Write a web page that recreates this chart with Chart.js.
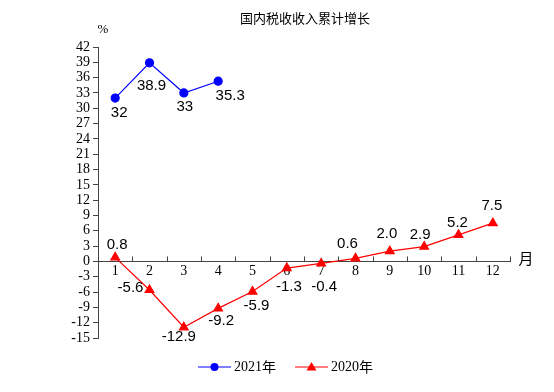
<!DOCTYPE html>
<html>
<head>
<meta charset="utf-8">
<script src="https://cdn.jsdelivr.net/npm/chart.js@4/dist/chart.umd.min.js"></script>
<style>
  html, body { margin: 0; padding: 0; background: #fff; }
  #wrap { width: 554px; height: 392px; }
</style>
</head>
<body>
<div id="wrap"><canvas id="c" width="554" height="392"></canvas></div>
<script>
// 月份 + 数据
const months = ["1", "2", "3", "4", "5", "6", "7", "8", "9", "10", "11", "12"];
const y2021 = [32, 38.9, 33, 35.3, null, null, null, null, null, null, null, null];
const y2020 = [0.8, -5.6, -12.9, -9.2, -5.9, -1.3, -0.4, 0.6, 2.0, 2.9, 5.2, 7.5];
const yTicks = [42, 39, 36, 33, 30, 27, 24, 21, 18, 15, 12, 9, 6, 3, 0, -3, -6, -9, -12, -15];

// label offsets (dx, dy) from each point
const off2021 = [[4, 15], [2, 23], [1, 14], [12, 15]];
const off2020 = [[2, -12], [-19, -2], [-5, 10], [3, 12], [4, 14], [2, 19],
                 [3, 23], [-8, -14], [-3, -17], [-4, -12], [-1, -12], [-1, -17]];

const serif = "'Liberation Serif', 'Times New Roman', serif";
const sans = "'Liberation Sans', Arial, sans-serif";
const cjk = "'Noto Sans CJK SC', sans-serif";

const extras = {
  id: "extras",
  afterDatasetsDraw(chart) {
    const ctx = chart.ctx;
    const xs = chart.scales.x, ys = chart.scales.y;
    const y0 = ys.getPixelForValue(0);
    ctx.save();

    // x axis tick marks, pointing up, between categories
    ctx.strokeStyle = "#444";
    ctx.lineWidth = 1;
    for (let i = 0; i <= months.length; i++) {
      const px = Math.round(xs.getPixelForValue(i - 0.5)) + 0.5;
      ctx.beginPath();
      ctx.moveTo(px, y0);
      ctx.lineTo(px, y0 - 5);
      ctx.stroke();
    }

    // data labels
    ctx.fillStyle = "#000";
    ctx.font = "15px " + sans;
    ctx.textAlign = "center";
    ctx.textBaseline = "middle";
    const m1 = chart.getDatasetMeta(0), m2 = chart.getDatasetMeta(1);
    y2021.forEach((v, i) => {
      if (v === null) return;
      const p = m1.data[i];
      ctx.fillText(String(v), p.x + off2021[i][0], p.y + off2021[i][1]);
    });
    y2020.forEach((v, i) => {
      const p = m2.data[i];
      ctx.fillText(v.toFixed(1), p.x + off2020[i][0], p.y + off2020[i][1]);
    });

    // title, unit labels
    const ca = chart.chartArea;
    ctx.font = "13px " + cjk;
    ctx.fillText("国内税收收入累计增长", 305, 18);
    ctx.font = "13px " + serif;
    ctx.fillText("%", ca.left + 5, 30);
    ctx.font = "15px " + cjk;
    ctx.fillText("月", ca.right + 16, y0 - 3);

    // legend
    const ly = 367;
    ctx.lineWidth = 1.2;
    ctx.strokeStyle = "#0000ff";
    ctx.beginPath(); ctx.moveTo(198, ly); ctx.lineTo(231, ly); ctx.stroke();
    ctx.fillStyle = "#0000ff";
    ctx.beginPath(); ctx.arc(214.5, ly, 4, 0, Math.PI * 2); ctx.fill();
    ctx.strokeStyle = "#ff0000";
    ctx.beginPath(); ctx.moveTo(295, ly); ctx.lineTo(328, ly); ctx.stroke();
    ctx.fillStyle = "#ff0000";
    ctx.beginPath(); ctx.moveTo(311.5, ly - 5); ctx.lineTo(316.5, ly + 3.5); ctx.lineTo(306.5, ly + 3.5); ctx.closePath(); ctx.fill();
    ctx.fillStyle = "#000";
    ctx.textAlign = "left";
    ctx.font = "14px " + serif;
    ctx.fillText("2021", 234, ly);
    ctx.fillText("2020", 331, ly);
    ctx.font = "14px " + cjk;
    ctx.fillText("年", 262, ly);
    ctx.fillText("年", 359, ly);
    ctx.restore();
  }
};

new Chart(document.getElementById("c").getContext("2d"), {
  type: "line",
  data: {
    labels: months,
    datasets: [{
      label: "2021年",
      data: y2021,
      borderColor: "#0000ff",
      backgroundColor: "#0000ff",
      borderWidth: 1.2,
      pointStyle: "circle",
      pointRadius: 4,
      tension: 0
    }, {
      label: "2020年",
      data: y2020,
      borderColor: "#ff0000",
      backgroundColor: "#ff0000",
      borderWidth: 1.2,
      pointStyle: "triangle",
      pointRadius: 5,
      tension: 0
    }]
  },
  options: {
    responsive: false,
    animation: false,
    devicePixelRatio: 1,
    layout: { padding: { top: 47, left: 58, right: 44, bottom: 54 } },
    plugins: {
      legend: { display: false },
      title: { display: false },
      tooltip: { enabled: false }
    },
    scales: {
      x: {
        position: { y: 0 },
        offset: true,
        grid: { display: false, drawTicks: false },
        border: { display: true, color: "#444", width: 1 },
        ticks: { color: "#000", font: { family: serif, size: 14 }, padding: 2, maxRotation: 0 }
      },
      y: {
        min: -15,
        max: 42,
        afterFit(s) { s.width = 40; },
        afterBuildTicks(s) { s.ticks = yTicks.map(v => ({ value: v })); },
        grid: { drawOnChartArea: false, drawTicks: true, tickLength: 5, color: "#444" },
        border: { display: true, color: "#444", width: 1 },
        ticks: { color: "#000", font: { family: serif, size: 14 }, padding: 3, autoSkip: false }
      }
    }
  },
  plugins: [extras]
});
</script>
</body>
</html>
